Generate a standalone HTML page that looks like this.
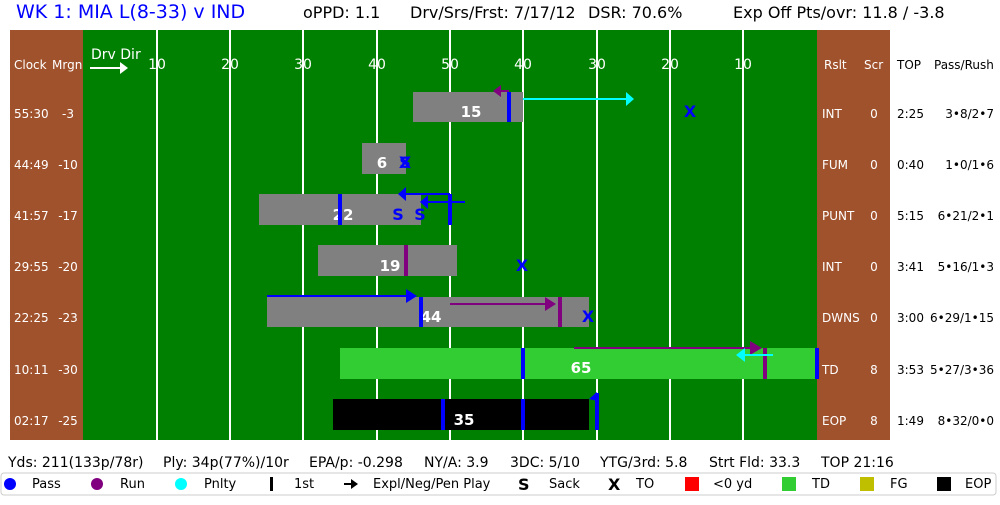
<!DOCTYPE html>
<html><head><meta charset="utf-8"><style>
body{margin:0;background:#fff;width:1000px;height:500px;overflow:hidden}
svg text{font-family:"DejaVu Sans","Liberation Sans",sans-serif}
</style></head><body>
<svg width="1000" height="500" xmlns="http://www.w3.org/2000/svg">
<text x="16" y="18" font-size="19" fill="#0000ff">WK 1: MIA L(8-33) v IND</text>
<text x="303" y="18" font-size="16" fill="#000">oPPD: 1.1</text>
<text x="410" y="18" font-size="16" fill="#000">Drv/Srs/Frst: 7/17/12</text>
<text x="588" y="18" font-size="16" fill="#000">DSR: 70.6%</text>
<text x="733" y="18" font-size="16" fill="#000">Exp Off Pts/ovr: 11.8 / -3.8</text>
<rect x="10" y="30" width="73" height="410" fill="#a0522d"/>
<rect x="817" y="30" width="73" height="410" fill="#a0522d"/>
<rect x="83" y="30" width="734" height="410" fill="#008000"/>
<g stroke="#fff" stroke-width="2">
<line x1="157" y1="30" x2="157" y2="440"/><line x1="230" y1="30" x2="230" y2="440"/><line x1="303" y1="30" x2="303" y2="440"/><line x1="377" y1="30" x2="377" y2="440"/><line x1="450" y1="30" x2="450" y2="440"/><line x1="523" y1="30" x2="523" y2="440"/><line x1="597" y1="30" x2="597" y2="440"/><line x1="670" y1="30" x2="670" y2="440"/><line x1="743" y1="30" x2="743" y2="440"/>
</g>
<g font-size="14" fill="#fff" text-anchor="middle">
<text x="157" y="69">10</text><text x="230" y="69">20</text><text x="303" y="69">30</text><text x="377" y="69">40</text><text x="450" y="69">50</text><text x="523" y="69">40</text><text x="597" y="69">30</text><text x="670" y="69">20</text><text x="743" y="69">10</text>
</g>
<text x="91" y="59" font-size="14" fill="#fff">Drv Dir</text>
<line x1="90" y1="68" x2="120" y2="68" stroke="#fff" stroke-width="2"/><path d="M120,62L128,68L120,74z" fill="#fff"/>
<g font-size="12" fill="#fff">
<text x="14" y="69">Clock</text><text x="52" y="69">Mrgn</text>
<text x="824" y="69">Rslt</text><text x="864" y="69">Scr</text>
<text x="14" y="118">55:30</text><text x="14" y="169">44:49</text><text x="14" y="220">41:57</text><text x="14" y="271">29:55</text><text x="14" y="322">22:25</text><text x="14" y="374">10:11</text><text x="14" y="425">02:17</text>
<text x="822" y="118">INT</text><text x="822" y="169">FUM</text><text x="822" y="220">PUNT</text><text x="822" y="271">INT</text><text x="822" y="322">DWNS</text><text x="822" y="374">TD</text><text x="822" y="425">EOP</text>
</g>
<g font-size="12" fill="#fff" text-anchor="middle">
<text x="68" y="118">-3</text><text x="68" y="169">-10</text><text x="68" y="220">-17</text><text x="68" y="271">-20</text><text x="68" y="322">-23</text><text x="68" y="374">-30</text><text x="68" y="425">-25</text>
<text x="874" y="118">0</text><text x="874" y="169">0</text><text x="874" y="220">0</text><text x="874" y="271">0</text><text x="874" y="322">0</text><text x="874" y="374">8</text><text x="874" y="425">8</text>
</g>
<g font-size="12" fill="#000">
<text x="897" y="69">TOP</text><text x="934" y="69">Pass/Rush</text>
<text x="897" y="118">2:25</text><text x="994" y="118" text-anchor="end">3•8/2•7</text>
<text x="897" y="169">0:40</text><text x="994" y="169" text-anchor="end">1•0/1•6</text>
<text x="897" y="220">5:15</text><text x="994" y="220" text-anchor="end">6•21/2•1</text>
<text x="897" y="271">3:41</text><text x="994" y="271" text-anchor="end">5•16/1•3</text>
<text x="897" y="322">3:00</text><text x="994" y="322" text-anchor="end">6•29/1•15</text>
<text x="897" y="374">3:53</text><text x="994" y="374" text-anchor="end">5•27/3•36</text>
<text x="897" y="425">1:49</text><text x="994" y="425" text-anchor="end">8•32/0•0</text>
</g>
<rect x="413" y="92" width="110" height="30" fill="#808080"/>
<rect x="362" y="143" width="44" height="31" fill="#808080"/>
<rect x="259" y="194" width="162" height="31" fill="#808080"/>
<rect x="318" y="245" width="139" height="31" fill="#808080"/>
<rect x="267" y="297" width="322" height="30" fill="#808080"/>
<rect x="340" y="348" width="477" height="31" fill="#32cd32"/>
<rect x="333" y="399" width="256" height="31" fill="#000"/>
<g font-size="15" font-weight="bold" fill="#fff" text-anchor="middle">
<text x="471" y="117">15</text><text x="382" y="168">6</text><text x="343" y="220">22</text><text x="390" y="271">19</text><text x="431" y="322">44</text><text x="581" y="373">65</text><text x="464" y="425">35</text>
</g>
<g>
<rect x="507" y="92" width="4" height="30" fill="#0000ff"/>
<rect x="338" y="194" width="4" height="31" fill="#0000ff"/>
<rect x="448" y="194" width="4" height="31" fill="#0000ff"/>
<rect x="404" y="245" width="4" height="31" fill="#800080"/>
<rect x="419" y="297" width="4" height="30" fill="#0000ff"/>
<rect x="558" y="297" width="4" height="30" fill="#800080"/>
<rect x="521" y="348" width="4" height="31" fill="#0000ff"/>
<rect x="815" y="348" width="4" height="31" fill="#0000ff"/>
<rect x="763" y="348" width="4" height="31" fill="#800080"/>
<rect x="441" y="399" width="4" height="31" fill="#0000ff"/>
<rect x="521" y="399" width="4" height="31" fill="#0000ff"/>
<rect x="595" y="393" width="4" height="37" fill="#0000ff"/>
</g>
<line x1="509" y1="91" x2="500" y2="91" stroke="#800080" stroke-width="2"/><path d="M501,85L493,91L501,97z" fill="#800080"/>
<line x1="523" y1="99" x2="627" y2="99" stroke="#00ffff" stroke-width="2"/><path d="M626,92L634,99L626,106z" fill="#00ffff"/>
<line x1="450" y1="194" x2="405" y2="194" stroke="#0000ff" stroke-width="2"/><path d="M406,187L398,194L406,201z" fill="#0000ff"/>
<line x1="465" y1="202" x2="427" y2="202" stroke="#0000ff" stroke-width="2"/><path d="M428,195L420,202L428,209z" fill="#0000ff"/>
<line x1="267" y1="296" x2="408" y2="296" stroke="#0000ff" stroke-width="2"/><path d="M406,289L417,296L406,303z" fill="#0000ff"/>
<line x1="450" y1="304" x2="548" y2="304" stroke="#800080" stroke-width="2"/><path d="M545,297L556,304L545,311z" fill="#800080"/>
<line x1="574" y1="348" x2="752" y2="348" stroke="#800080" stroke-width="2"/><path d="M750,341L762,348L750,355z" fill="#800080"/>
<line x1="773" y1="355" x2="745" y2="355" stroke="#00ffff" stroke-width="2"/><path d="M745,348L736,355L745,362z" fill="#00ffff"/>
<path d="M597,392L589,399L597,401z" fill="#0000ff"/>
<g font-size="16" font-weight="bold" fill="#0000ff" text-anchor="middle">
<text x="690" y="117">X</text><text x="405" y="168">S</text><text x="405" y="168">X</text>
<text x="398" y="220">S</text><text x="420" y="220">S</text><text x="522" y="271">X</text><text x="588" y="322">X</text>
</g>
<g font-size="14" fill="#000">
<text x="8" y="467">Yds: 211(133p/78r)</text><text x="163" y="467">Ply: 34p(77%)/10r</text><text x="309" y="467">EPA/p: -0.298</text><text x="424" y="467">NY/A: 3.9</text><text x="510" y="467">3DC: 5/10</text><text x="600" y="467">YTG/3rd: 5.8</text><text x="709" y="467">Strt Fld: 33.3</text><text x="821" y="467">TOP 21:16</text>
</g>
<rect x="1" y="473" width="995" height="22" rx="3" fill="#fff" stroke="#ccc"/>
<g font-size="13" fill="#000">
<circle cx="10" cy="484" r="6" fill="#0000ff"/><text x="32" y="488">Pass</text>
<circle cx="97" cy="484" r="6" fill="#800080"/><text x="120" y="488">Run</text>
<circle cx="181" cy="484" r="6" fill="#00ffff"/><text x="204" y="488">Pnlty</text>
<rect x="270" y="477" width="3" height="14" fill="#000"/><text x="294" y="488">1st</text>
<line x1="344" y1="484" x2="352" y2="484" stroke="#000" stroke-width="2"/><path d="M351,479L358,484L351,489z" fill="#000"/><text x="373" y="488">Expl/Neg/Pen Play</text>
<text x="518" y="490" font-weight="bold" font-size="16">S</text><text x="549" y="488">Sack</text>
<text x="608" y="490" font-weight="bold" font-size="16">X</text><text x="636" y="488">TO</text>
<rect x="685" y="477" width="14" height="14" fill="#ff0000"/><text x="713" y="488">&lt;0 yd</text>
<rect x="782" y="477" width="14" height="14" fill="#32cd32"/><text x="812" y="488">TD</text>
<rect x="860" y="477" width="14" height="14" fill="#bfbf00"/><text x="890" y="488">FG</text>
<rect x="937" y="477" width="14" height="14" fill="#000"/><text x="965" y="488">EOP</text>
</g>
</svg>
</body></html>
